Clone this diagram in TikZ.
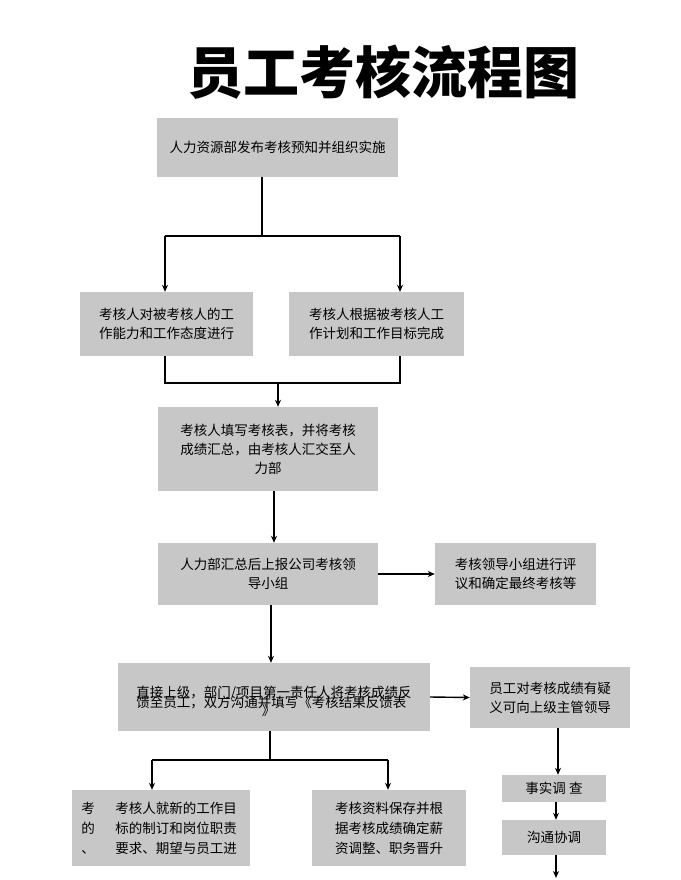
\documentclass[tikz,border=0pt]{standalone}
\usepackage{fontspec}
\setmainfont{Noto Sans CJK SC}
\usetikzlibrary{arrows.meta}
\begin{document}
\begin{tikzpicture}[x=1pt,y=-1pt,
  bx/.style={fill=black!22,draw=none,align=center,font=\fontsize{13.5}{19}\selectfont,inner sep=0pt},
  ln/.style={line width=1.4pt},
  ar/.style={line width=1.4pt,-{Stealth[length=7pt,width=6pt]}}]
\useasboundingbox (0,0) rectangle (680,880);
\node[font=\fontsize{56}{60}\selectfont\bfseries] (title) at (383,72) {员工考核流程图};
\node[bx,minimum width=241,minimum height=59] (b1) at (277.5,147.5) {人力资源部发布考核预知并组织实施};
\node[bx,minimum width=173,minimum height=64] (b2) at (166.5,324) {考核人对被考核人的工\\作能力和工作态度进行};
\node[bx,minimum width=175,minimum height=64] (b3) at (376.5,324) {考核人根据被考核人工\\作计划和工作目标完成};
\node[bx,minimum width=220,minimum height=84] (b4) at (268,449) {考核人填写考核表，并将考核\\成绩汇总，由考核人汇交至人\\力部};
\node[bx,minimum width=220,minimum height=62] (b5) at (268,574) {人力部汇总后上报公司考核领\\导小组};
\node[bx,minimum width=161,minimum height=62] (b6) at (515.5,574) {考核领导小组进行评\\议和确定最终考核等};
\node[bx,minimum width=312,minimum height=68] (b7) at (274,697) {};
\node[font=\fontsize{13.5}{18}\selectfont,align=left] (t7) at (274,701) {直接上级，部门/项目第一责任人将考核成绩反\\[-8pt]馈至员工，双方沟通并填写《考核结果反馈表\\[-10pt]\hspace*{9.3em}》};
\node[bx,minimum width=160,minimum height=61] (b8) at (550,697.5) {员工对考核成绩有疑\\义可向上级主管领导};
\node[bx,minimum width=178,minimum height=76] (b9) at (161,828) {};
\node[font=\fontsize{13.5}{20}\selectfont,align=left] (t9a) at (88,828) {考\\的\\、};
\node[font=\fontsize{13.5}{20}\selectfont,align=left] (t9b) at (176,828) {考核人就新的工作目\\标的制订和岗位职责\\要求、期望与员工进};
\node[bx,minimum width=154,minimum height=76,font=\fontsize{13.5}{20}\selectfont] (b10) at (389,828) {考核资料保存并根\\据考核成绩确定薪\\资调整、职务晋升};
\node[bx,minimum width=104,minimum height=27] (b11) at (554,788.5) {事实调 查};
\node[bx,minimum width=104,minimum height=35] (b12) at (554,837.5) {沟通协调};
\coordinate (e12) at (554,878);
% connectors
\draw[ln] (b1.south -| 262,0) -- (262,236) coordinate (j1);
\draw[ar] (165,236) -- (b2.north -| 165,0);
\draw[ar] (400,236) -- (b3.north -| 400,0);
\draw[ln] (165,236) -- (400,236);
\draw[ln] (b2.south -| 165,0) -- (165,383) -- (400,383) -- (b3.south -| 400,0);
\draw[ar] (278,383) -- (b4.north -| 278,0);
\draw[ar] (b4.south -| 274,0) -- (b5.north -| 274,0);
\draw[ar] (b5.east) -- (b6.west);
\draw[ar] (b5.south -| 271,0) -- (b7.north -| 271,0);
\draw[ar] (b7.east) -- (b8.west);
\draw[ln] (b7.south -| 270,0) -- (270,760);
\draw[ln] (152,760) -- (388,760);
\draw[ar] (152,760) -- (b9.north -| 152,0);
\draw[ar] (388,760) -- (b10.north -| 388,0);
\draw[ar] (b8.south -| 558,0) -- (b11.north -| 558,0);
\draw[ar] (b11.south -| 556,0) -- (b12.north -| 556,0);
\draw[ar] (b12.south -| 556,0) -- (e12 -| 556,0);
\end{tikzpicture}
\end{document}
